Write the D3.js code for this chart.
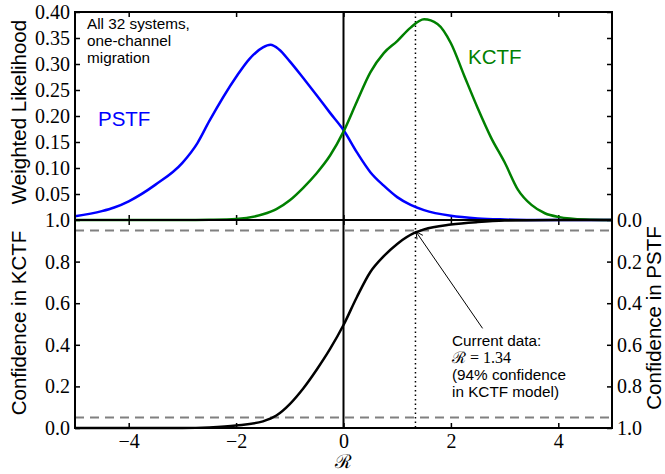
<!DOCTYPE html>
<html>
<head>
<meta charset="utf-8">
<script src="https://cdn.jsdelivr.net/npm/d3@7"></script>
<style>
  body { margin: 0; background: #fff; }
  svg { display: block; }
  .tick line { stroke: #000; stroke-width: 1.5px; }
  .domain { display: none; }
  .lbl { font-family: "Liberation Sans", Arial, sans-serif; }
</style>
</head>
<body>
<svg width="665" height="474"></svg>
<script>
var xPstf = [-5, -4.5, -4.27, -4, -3.5, -3, -2.72, -2.5, -2, -1.75, -1.5, -1.36, -1.2, -1, -0.75, -0.5, -0.25, 0, 0.25, 0.5, 0.75, 1, 1.25, 1.5, 2, 2.5, 3, 3.5, 4, 5];
var pstf  = [0.007, 0.017, 0.024, 0.036, 0.068, 0.11, 0.148, 0.19, 0.275, 0.31, 0.332, 0.337, 0.328, 0.305, 0.273, 0.24, 0.206, 0.173, 0.13, 0.092, 0.066, 0.044, 0.029, 0.019, 0.008, 0.003, 0.001, 0, 0, 0];

var xKctf = [-5, -3, -2.5, -2, -1.5, -1.25, -1, -0.75, -0.5, -0.25, 0, 0.25, 0.5, 0.75, 1, 1.25, 1.5, 1.75, 2, 2.25, 2.5, 2.75, 3, 3.25, 3.5, 3.75, 4, 4.5, 5];
var kctf  = [0, 0, 0.0005, 0.002, 0.011, 0.021, 0.038, 0.062, 0.09, 0.124, 0.17, 0.228, 0.284, 0.321, 0.344, 0.37, 0.386, 0.377, 0.34, 0.277, 0.215, 0.158, 0.111, 0.058, 0.029, 0.013, 0.006, 0.001, 0];

var xConf = [-5, -3, -2.5, -2, -1.5, -1.25, -1, -0.75, -0.5, -0.25, 0, 0.25, 0.5, 0.75, 1, 1.34, 1.5, 2, 2.5, 3, 4, 5];
var conf  = [0, 0, 0.003, 0.012, 0.032, 0.06, 0.115, 0.19, 0.28, 0.38, 0.495, 0.63, 0.75, 0.826, 0.885, 0.94, 0.955, 0.978, 0.99, 0.997, 1, 1];

var xTicks = [-4, -2, 0, 2, 4];
var topTicks = [0.05, 0.10, 0.15, 0.20, 0.25, 0.30, 0.35, 0.40];
var confTicks = [0.0, 0.2, 0.4, 0.6, 0.8, 1.0];
var currentR = 1.34;
var bands = [0.05, 0.95];

var svg = d3.select("svg");
var pLeft = 75, pRight = 612, pTop = 12, pMid = 220, pBottom = 428;
var serif = "'Liberation Serif', 'DejaVu Serif', serif";

var x = d3.scaleLinear([-5, 5], [pLeft, pRight]);
var yTop = d3.scaleLinear([0, 0.4], [pMid, pTop]);
var yBot = d3.scaleLinear([0, 1], [pBottom, pMid]);
var yRight = d3.scaleLinear([0, 1], [pMid, pBottom]);

function line(xs, ys, yScale) {
    return d3.line()
        .x(function (d, i) { return x(xs[i]); })
        .y(function (d) { return yScale(d); })
        .curve(d3.curveMonotoneX)(ys);
}

function addAxis(axis, tx, ty) {
    var g = svg.append("g").attr("transform", "translate(" + tx + "," + ty + ")").call(axis);
    g.selectAll("text").style("font-family", serif).style("font-size", "20px").attr("fill", "#000");
    return g;
}

// axes ticks (inward)
addAxis(d3.axisLeft(yTop).tickValues(topTicks).tickSize(-5).tickSizeOuter(0).tickPadding(5).tickFormat(d3.format(".2f")), pLeft, 0);
addAxis(d3.axisRight(yTop).tickValues(topTicks).tickSize(-5).tickSizeOuter(0).tickFormat(""), pRight, 0);
addAxis(d3.axisTop(x).tickValues(xTicks).tickSize(-5).tickSizeOuter(0).tickFormat(""), 0, pTop);
addAxis(d3.axisBottom(x).tickValues(xTicks).tickSize(-5).tickSizeOuter(0).tickFormat(""), 0, pMid);
addAxis(d3.axisTop(x).tickValues(xTicks).tickSize(-5).tickSizeOuter(0).tickFormat(""), 0, pMid);
addAxis(d3.axisLeft(yBot).tickValues(confTicks).tickSize(-5).tickSizeOuter(0).tickPadding(5).tickFormat(d3.format(".1f")), pLeft, 0);
addAxis(d3.axisRight(yRight).tickValues(confTicks).tickSize(-5).tickSizeOuter(0).tickPadding(5).tickFormat(d3.format(".1f")), pRight, 0);
addAxis(d3.axisBottom(x).tickValues(xTicks).tickSize(-5).tickSizeOuter(0).tickPadding(6).tickFormat(d3.format("d")), 0, pBottom);

// reference lines
svg.append("line").attr("x1", x(0)).attr("x2", x(0)).attr("y1", pTop).attr("y2", pBottom)
    .attr("stroke", "#000").attr("stroke-width", 2);
svg.append("line").attr("x1", x(currentR)).attr("x2", x(currentR)).attr("y1", pTop).attr("y2", pBottom)
    .attr("stroke", "#000").attr("stroke-width", 1.5).attr("stroke-dasharray", "1.5,3");
svg.selectAll(".band").data(bands).enter().append("line")
    .attr("x1", pLeft).attr("x2", pRight)
    .attr("y1", function (d) { return yBot(d); }).attr("y2", function (d) { return yBot(d); })
    .attr("stroke", "#808080").attr("stroke-width", 2).attr("stroke-dasharray", "9,6");

// curves
svg.append("path").attr("d", line(xPstf, pstf, yTop)).attr("fill", "none").attr("stroke", "#0000ff").attr("stroke-width", 2.5);
svg.append("path").attr("d", line(xKctf, kctf, yTop)).attr("fill", "none").attr("stroke", "#008000").attr("stroke-width", 2.5);
svg.append("path").attr("d", line(xConf, conf, yBot)).attr("fill", "none").attr("stroke", "#000").attr("stroke-width", 2.5);

// frames
svg.append("rect").attr("x", pLeft).attr("y", pTop).attr("width", pRight - pLeft).attr("height", pMid - pTop)
    .attr("fill", "none").attr("stroke", "#000").attr("stroke-width", 2);
svg.append("rect").attr("x", pLeft).attr("y", pMid).attr("width", pRight - pLeft).attr("height", pBottom - pMid)
    .attr("fill", "none").attr("stroke", "#000").attr("stroke-width", 2);

// labels
svg.append("text").attr("class", "lbl").attr("transform", "translate(26,112) rotate(-90)")
    .attr("text-anchor", "middle").attr("font-size", "20.5px").text("Weighted Likelihood");
svg.append("text").attr("class", "lbl").attr("transform", "translate(26,323) rotate(-90)")
    .attr("text-anchor", "middle").attr("font-size", "20.5px").text("Confidence in KCTF");
svg.append("text").attr("class", "lbl").attr("transform", "translate(661,318) rotate(-90)")
    .attr("text-anchor", "middle").attr("font-size", "20.5px").text("Confidence in PSTF");
svg.append("text").attr("x", x(0)).attr("y", 468).attr("text-anchor", "middle")
    .attr("font-family", "'DejaVu Serif', serif").attr("font-size", "19px").text("\u211B");

svg.append("text").attr("class", "lbl").attr("x", 98).attr("y", 126).attr("font-size", "20.5px")
    .attr("fill", "#0000ff").text("PSTF");
svg.append("text").attr("class", "lbl").attr("x", 468).attr("y", 64).attr("font-size", "20.5px")
    .attr("fill", "#008000").text("KCTF");

var note = svg.append("text").attr("class", "lbl").attr("x", 87).attr("y", 29).attr("font-size", "15.3px");
["All 32 systems,", "one-channel", "migration"].forEach(function (s, i) {
    note.append("tspan").attr("x", 87).attr("dy", i ? 17 : 0).text(s);
});

// annotation arrow
svg.append("defs").append("marker").attr("id", "head").attr("viewBox", "-10 -6 12 12")
    .attr("markerWidth", 12).attr("markerHeight", 12).attr("refX", 0).attr("refY", 0)
    .attr("orient", "auto").attr("markerUnits", "userSpaceOnUse")
    .append("path").attr("d", "M-7,-3.5 L0,0 L-7,3.5").attr("fill", "none").attr("stroke", "#000").attr("stroke-width", 1);
svg.append("line").attr("x1", x(2.59)).attr("y1", yBot(0.479)).attr("x2", x(currentR + 0.01)).attr("y2", yBot(0.944))
    .attr("stroke", "#000").attr("stroke-width", 1).attr("marker-end", "url(#head)");

var ann = svg.append("text").attr("class", "lbl").attr("font-size", "15.3px");
ann.append("tspan").attr("x", 452).attr("y", 346).text("Current data:");
ann.append("tspan").attr("x", 452).attr("y", 363).style("font-family", serif).attr("font-size", "16px")
    .text("\u211B = " + currentR.toFixed(2));
ann.append("tspan").attr("x", 452).attr("y", 380).text("(94% confidence");
ann.append("tspan").attr("x", 452).attr("y", 397).text("in KCTF model)");
</script>
</body>
</html>
